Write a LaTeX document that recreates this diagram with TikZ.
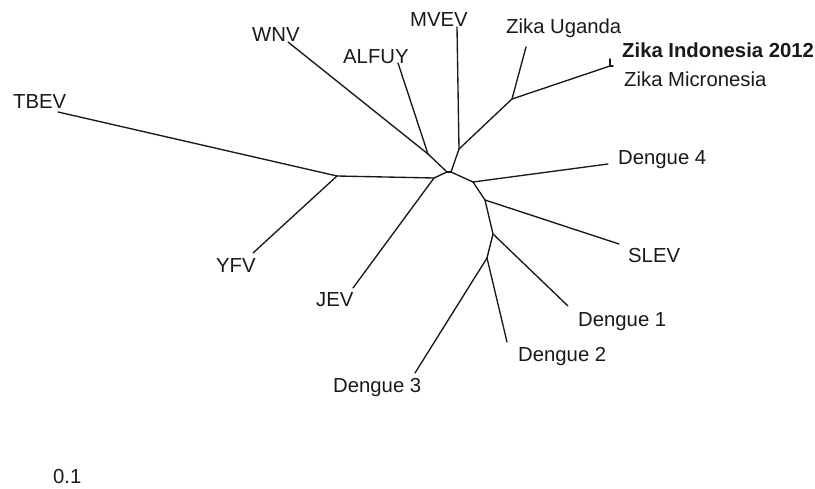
\documentclass[tikz,border=0pt]{standalone}
\usepackage{fontspec}
\setmainfont{Liberation Sans}

\begin{document}
\begin{tikzpicture}[
    x=1pt, y=-1pt,
    taxon/.style={inner sep=0, anchor=base west, font=\fontsize{20.3}{24}\selectfont, text=black!90},
    branch/.style={draw=black!90, line width=1.35pt, line join=round, line cap=round}
]
\useasboundingbox (0,0) rectangle (815,489);

% inner nodes of the tree
\coordinate (cl) at (447,172);
\coordinate (cr) at (451,172);
\coordinate (wa) at (428,154);
\coordinate (jt) at (434,178);
\coordinate (ty) at (337,176);
\coordinate (mz) at (459,149);
\coordinate (zk) at (512,99);
\coordinate (zim) at (610,66);
\coordinate (dfour) at (473,182);
\coordinate (sl) at (485,200);
\coordinate (done) at (493,234);
\coordinate (dtt) at (487,258);

% tips
\coordinate (tbevtip) at (58,112);
\coordinate (yfvtip) at (253,253);
\coordinate (jevtip) at (353,288);
\coordinate (wnvtip) at (288,42);
\coordinate (alfuytip) at (398,63);
\coordinate (mvevtip) at (457,27);
\coordinate (zugtip) at (526,47);
\coordinate (zindtip) at (610,59);
\coordinate (zmictip) at (613,66);
\coordinate (dfourtip) at (608,164);
\coordinate (slevtip) at (619,244);
\coordinate (donetip) at (568,306);
\coordinate (dtwotip) at (507,342);
\coordinate (dthreetip) at (415,373);

% Labels
\node[taxon] (tbev) at (13,109) {TBEV};
\node[taxon] (yfv) at (216,273) {YFV};
\node[taxon] (jev) at (316,306.5) {JEV};
\node[taxon] (wnv) at (252,42) {WNV};
\node[taxon] (alfuy) at (343,63.5) {ALFUY};
\node[taxon] (mvev) at (410,26.5) {MVEV};
\node[taxon] (zug) at (506,33.5) {Zika Uganda};
\node[taxon, font=\fontsize{20.3}{24}\selectfont\bfseries] (zind) at (622,58) {Zika Indonesia 2012};
\node[taxon] (zmic) at (624,86.5) {Zika Micronesia};
\node[taxon] (dfourl) at (618,164.5) {Dengue 4};
\node[taxon] (slev) at (628,262.5) {SLEV};
\node[taxon] (donel) at (578,327) {Dengue 1};
\node[taxon] (dtwol) at (518,361.5) {Dengue 2};
\node[taxon] (dthreel) at (333,392.5) {Dengue 3};
\node[taxon] (scale) at (53,483.5) {0.1};

% centre
\draw[branch] (cl) -- (cr);
\draw[branch] (cl) -- (wa);
\draw[branch] (cl) -- (jt);
\draw[branch] (cr) -- (mz);
\draw[branch] (cr) -- (dfour);

% left side
\draw[branch] (wa) -- (wnvtip);
\draw[branch] (wa) -- (alfuytip);
\draw[branch] (jt) -- (jevtip);
\draw[branch] (jt) -- (ty);
\draw[branch] (ty) -- (tbevtip);
\draw[branch] (ty) -- (yfvtip);

% Zika / MVEV
\draw[branch] (mz) -- (mvevtip);
\draw[branch] (mz) -- (zk);
\draw[branch] (zk) -- (zugtip);
\draw[branch] (zk) -- (zim);
\draw[branch] (zim) -- (zindtip);
\draw[branch] (zim) -- (zmictip);

% Dengue / SLEV
\draw[branch] (dfour) -- (dfourtip);
\draw[branch] (dfour) -- (sl);
\draw[branch] (sl) -- (slevtip);
\draw[branch] (sl) -- (done);
\draw[branch] (done) -- (donetip);
\draw[branch] (done) -- (dtt);
\draw[branch] (dtt) -- (dtwotip);
\draw[branch] (dtt) -- (dthreetip);

\end{tikzpicture}
\end{document}
